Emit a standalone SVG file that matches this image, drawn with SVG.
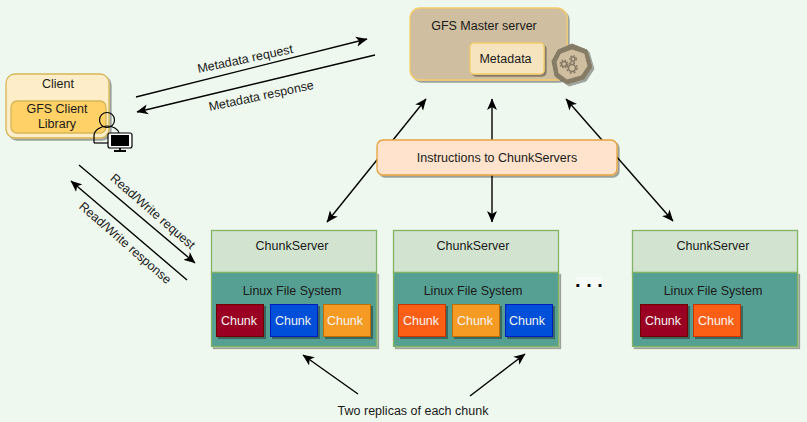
<svg xmlns="http://www.w3.org/2000/svg" width="807" height="422" viewBox="0 0 807 422">
<style>
text{font-family:"Liberation Sans",Arial,sans-serif;font-size:12.5px;fill:#1a1a1a;text-anchor:middle}
.w{fill:#f4f4f4}
.sh{filter:url(#s)}
.top{fill:#d2e4d0;stroke:#82b366;stroke-width:1.3}
.bot{fill:#56a093;stroke:#82b366;stroke-width:1.3}
.c{stroke-width:1;}
.l{fill:none;stroke:#000;stroke-width:1.4}
.red{fill:#990222;stroke:#6f0000}
.blue{fill:#0250d8;stroke:#001dbc}
.or{fill:#f59a23;stroke:#bd7000}
.ro{fill:#fb5f19;stroke:#c73500}
</style>
<defs>
<filter id="s" x="-10%" y="-10%" width="125%" height="125%"><feDropShadow dx="2" dy="2" stdDeviation="0.7" flood-color="#000" flood-opacity="0.35"/></filter>
<marker id="a" viewBox="0 0 12 11" refX="11" refY="5.5" markerWidth="12" markerHeight="11" orient="auto-start-reverse" markerUnits="userSpaceOnUse"><path d="M0 0.5L11.5 5.5L0 10.5L3 5.5Z" fill="#000"/></marker>
</defs>
<rect width="807" height="422" fill="#eff8ee"/>
<g id="connectors">
<line class="l" x1="136" y1="97" x2="367" y2="39" marker-end="url(#a)"/>
<line class="l" x1="375" y1="55" x2="137" y2="112" marker-end="url(#a)"/>
<line class="l" x1="79" y1="165" x2="195" y2="263" marker-end="url(#a)"/>
<line class="l" x1="187" y1="280" x2="71" y2="181" marker-end="url(#a)"/>
<line class="l" x1="327" y1="222" x2="426" y2="99" marker-start="url(#a)" marker-end="url(#a)"/>
<line class="l" x1="492" y1="222" x2="492" y2="99" marker-start="url(#a)" marker-end="url(#a)"/>
<line class="l" x1="673" y1="221" x2="566" y2="99" marker-start="url(#a)" marker-end="url(#a)"/>
<line class="l" x1="358" y1="394" x2="303" y2="355" marker-end="url(#a)"/>
<line class="l" x1="470" y1="396" x2="525" y2="354" marker-end="url(#a)"/>
</g>
<g id="label-meta-req"><text transform="translate(246 63) rotate(-12)">Metadata request</text></g>
<g id="label-meta-res"><text transform="translate(262 100) rotate(-12)">Metadata response</text></g>
<g id="label-rw-req"><text transform="translate(150 214.500) rotate(41)">Read/Write request</text></g>
<g id="label-rw-res"><text transform="translate(122.500 246) rotate(41)">Read/Write response</text></g>
<g id="master">
<rect class="sh" x="410" y="8" width="157" height="72" rx="10" fill="#cfbe9f" stroke="#f4cc6c" stroke-width="1.3"/>
<text x="484" y="30">GFS Master server</text>
<rect class="sh" x="470" y="43" width="74" height="31" rx="4" fill="#f6e4bf" stroke="#f4cc6c" stroke-width="1.3"/>
<text x="505.500" y="63">Metadata</text>
<path class="sh" d="M572 44L587 50L592 67L584 79L567 84L555 76L552 61L558 50Z" fill="#867b66" stroke="#867b66" stroke-linejoin="round"/>
<path d="M572 50L584 54L587 66L581 75L567 79L559 73L557 62L561 54Z" fill="#cfbe9f" stroke="#cfbe9f" stroke-linejoin="round"/>
<g fill="none" stroke="#867b66" stroke-width="1.500"><circle cx="572" cy="68" r="3.500"/><circle cx="572" cy="68" r="5" stroke-dasharray="2 2"/><circle cx="564" cy="64" r="2.500"/><circle cx="564" cy="64" r="3.800" stroke-dasharray="1.500 1.500"/><circle cx="573" cy="59" r="2"/><circle cx="573" cy="59" r="3.200" stroke-dasharray="1.500 1.500"/></g>
</g>
<g id="client">
<rect class="sh" x="6" y="74" width="103" height="64" rx="9" fill="#fdedc8" stroke="#d6b656" stroke-width="1.300"/>
<text x="58" y="88">Client</text>
<rect x="11" y="101" width="95" height="32" rx="6" fill="#ffd166" stroke="#d6b656" stroke-width="1.300"/>
<text x="57" y="113">GFS Client</text>
<text x="57" y="128">Library</text>
<g id="client-user" fill="none" stroke="#000" stroke-width="1.200">
<circle cx="107" cy="120" r="7.500"/>
<path d="M94 143V136C94 130 101 126 107 126C113 126 118 129 119 133"/>
<path d="M94 143H110"/>
<rect x="108" y="133" width="24" height="15" rx="2" fill="#fff"/>
<rect x="111" y="135" width="18" height="11" fill="#000" stroke="none"/>
<path d="M120 148V151M114 151H126" stroke-width="1.800"/>
</g>
</g>
<g id="instructions">
<rect class="sh" x="377" y="140" width="240" height="35" rx="6" fill="#ffe3cc" stroke="#e6a23c" stroke-width="1.300"/>
<text x="497" y="162">Instructions to ChunkServers</text>
</g>
<g id="cs1">
<rect class="top" x="211.500" y="230.500" width="165" height="42"/>
<rect class="bot sh" x="211.500" y="272.500" width="165" height="74"/>
<text x="292" y="250">ChunkServer</text>
<text x="292" y="295">Linux File System</text>
<rect class="red c sh" x="216.500" y="304.500" width="47" height="32"/><text class="w" x="239" y="325">Chunk</text>
<rect class="blue c sh" x="270.500" y="304.500" width="47" height="32"/><text class="w" x="293" y="325">Chunk</text>
<rect class="or c sh" x="323.500" y="304.500" width="47" height="32"/><text class="w" x="345" y="325">Chunk</text>
</g>
<g id="cs2">
<rect class="top" x="393.500" y="230.500" width="165" height="42"/>
<rect class="bot sh" x="393.500" y="272.500" width="165" height="74"/>
<text x="473" y="250">ChunkServer</text>
<text x="473" y="295">Linux File System</text>
<rect class="ro c sh" x="398.500" y="304.500" width="47" height="32"/><text class="w" x="421" y="325">Chunk</text>
<rect class="or c sh" x="452.500" y="304.500" width="47" height="32"/><text class="w" x="475" y="325">Chunk</text>
<rect class="blue c sh" x="505.500" y="304.500" width="47" height="32"/><text class="w" x="527" y="325">Chunk</text>
</g>
<g id="cs3">
<rect class="top" x="632.500" y="230.500" width="165" height="42"/>
<rect class="bot sh" x="632.500" y="272.500" width="165" height="74"/>
<text x="713" y="250">ChunkServer</text>
<text x="713" y="295">Linux File System</text>
<rect class="red c sh" x="640.500" y="304.500" width="47" height="32"/><text class="w" x="663" y="325">Chunk</text>
<rect class="ro c sh" x="693.500" y="304.500" width="47" height="32"/><text class="w" x="716" y="325">Chunk</text>
</g>
<g id="ellipsis"><rect x="576" y="277" width="27" height="11" fill="#f7faf6"/><text x="589" y="287" style="font-size:20px;font-weight:bold;fill:#000">. . .</text></g>
<g id="replicas"><text x="413" y="415">Two replicas of each chunk</text></g>
</svg>
